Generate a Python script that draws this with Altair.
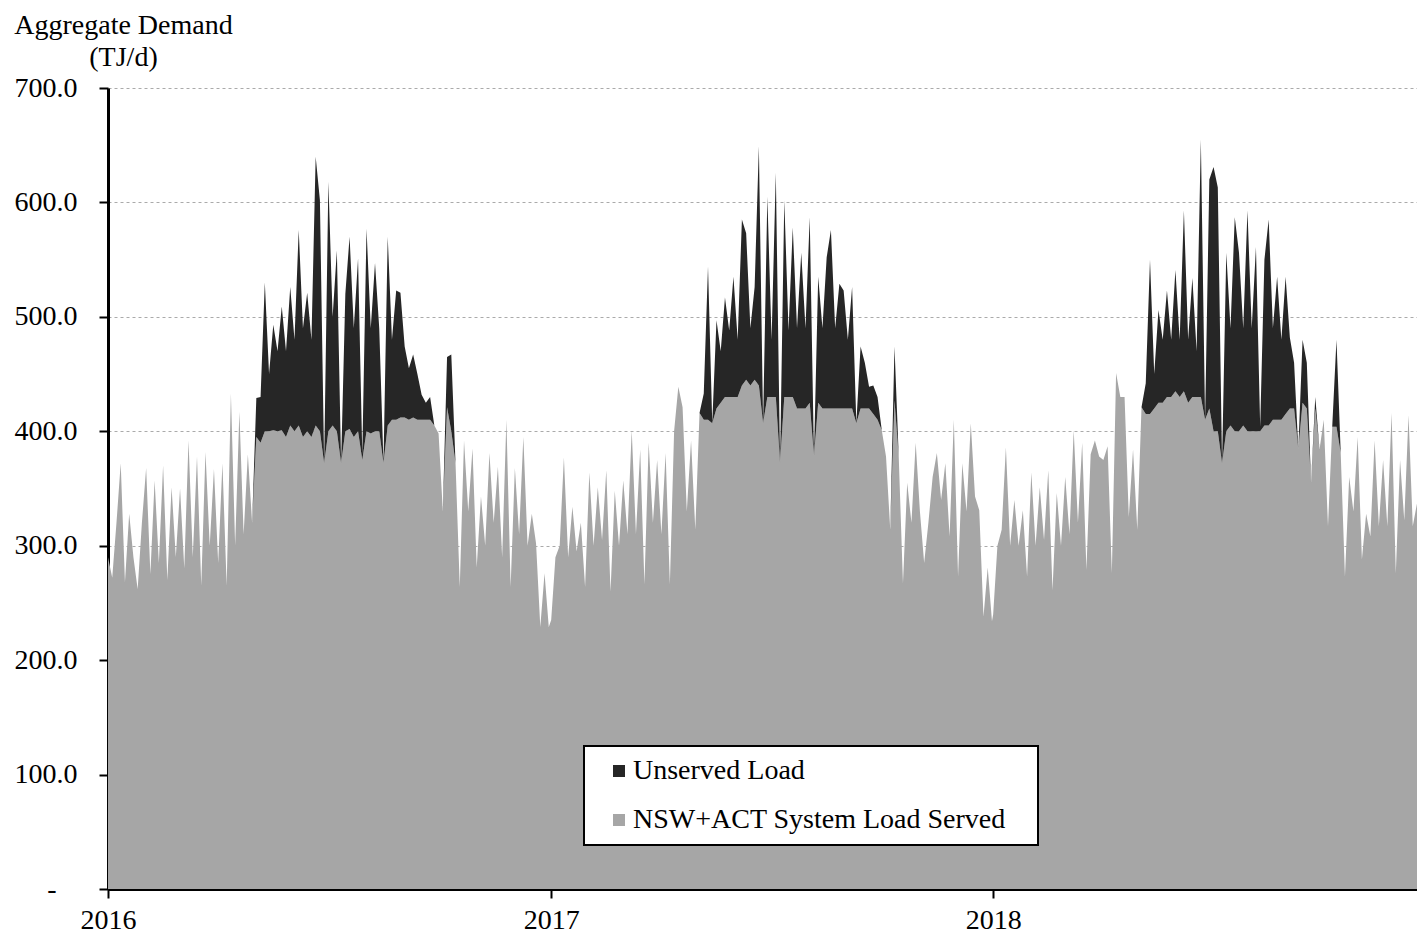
import altair as alt
import pandas as pd

# ---- data (half-week samples, TJ/d) ----
served_2016 = [290,272,320,372,268,328,290,262,320,368,
               275,357,285,370,270,351,290,350,280,392,
               290,378,265,382,300,367,285,372,265,433,
               300,417,310,380,320,395,390,400,400,401,
               400,401,395,405,400,405,395,400,395,405,
               400,372,400,405,400,372,400,402,395,400,
               375,400,398,400,400,372,405,410,410,412,
               412,410,412,410,410,410,410,405,398,330,
               421,400,372,264,392,330,385,281,343,300,
               381,320,369,290,410,264,368,310,395,300,
               328,302,229,276,229]
unserved_2016 = [0]*35 + [34,40,130,50,92,70,108,75,121,80,
                          171,95,121,85,235,202,0,218,95,158,
                          0,120,168,95,151,5,177,92,147,90,
                          0,165,70,113,109,62,45,55,40,22,
                          15,20,0,0,0,44,67] + [0]*23

served_2017 = [235,290,300,377,290,334,295,320,264,364,
               300,351,305,366,260,348,300,357,310,401,
               310,384,266,390,320,375,310,381,266,400,
               439,421,330,392,314,416,410,410,407,420,
               425,430,430,430,430,440,445,440,445,440,
               407,430,430,430,372,430,430,430,420,420,
               420,425,378,425,420,420,420,420,420,420,
               420,420,407,420,420,420,415,410,401,378,
               314,427,378,267,355,320,390,330,285,320,
               360,381,340,372,308,410,273,372,330,407,
               343,331,238,281,234]
unserved_2017 = [0]*36 + [23,134,0,77,45,87,58,105,50,145,
                          128,50,81,209,0,175,50,196,0,172,
                          58,148,70,136,70,162,0,110,70,132,
                          156,70,109,103,60,106,0,54,40,19,
                          25,20,0,0,0,47] + [0]*23

served_2018 = [240,300,314,386,300,340,300,331,273,364,
               300,351,305,366,261,346,300,360,310,401,
               320,390,279,380,392,378,375,387,276,451,
               430,430,325,384,314,421,415,415,420,425,
               425,430,430,435,430,435,425,430,430,430,
               410,420,400,400,372,400,405,400,400,405,
               400,400,400,400,405,405,410,410,410,415,
               420,420,384,425,420,355,420,384,410,317,
               404,404,381,273,360,330,395,288,328,308,
               392,317,375,317,416,276,375,322,414,317,
               337]
unserved_2018 = [0]*36 + [27,135,30,81,55,93,50,106,50,158,
                          55,104,40,225,0,200,231,213,0,156,
                          85,187,156,85,193,90,161,4,145,180,
                          80,125,70,120,62,40,0,55,40,0,
                          10,0,0,0,0,76] + [0]*19

y_ticks = [0, 100, 200, 300, 400, 500, 600, 700]
series_names = ["Unserved Load", "NSW+ACT System Load Served"]
series_colors = ["#262626", "#a6a6a6"]

rows = []
for year, served, unserved in [(2016, served_2016, unserved_2016),
                               (2017, served_2017, unserved_2017),
                               (2018, served_2018, unserved_2018)]:
    dates = pd.date_range(f"{year}-01-01", periods=len(served), freq="84h")
    for d, s, u in zip(dates, served, unserved):
        rows.append({"date": d, "series": series_names[1], "value": s, "ord": 0})
        rows.append({"date": d, "series": series_names[0], "value": u, "ord": 1})
df = pd.DataFrame(rows)

FONT = "Liberation Serif"
BLANK = "\u2800"

chart = alt.Chart(df).mark_area(interpolate="linear", clip=True).encode(
    x=alt.X("date:T",
            scale=alt.Scale(domain=[alt.DateTime(year=2016, month=1, date=1),
                                    alt.DateTime(year=2018, month=12, date=17)]),
            axis=alt.Axis(values=[alt.DateTime(year=y, month=1, date=1) for y in (2016, 2017, 2018)],
                          format="%Y", title=None, grid=False, labelFlush=False,
                          tickSize=9, tickWidth=2, tickColor="black",
                          domainColor="black", domainWidth=3,
                          labelPadding=8, labelFontSize=28, labelFont=FONT,
                          labelColor="black")),
    y=alt.Y("value:Q", stack="zero",
            scale=alt.Scale(domain=[0, 700], nice=False),
            axis=alt.Axis(values=y_ticks,
                          labelExpr=f"datum.value == 0 ? '-{BLANK}' : format(datum.value, '.1f')",
                          title=["Aggregate Demand", "(TJ/d)"],
                          titleAngle=0, titleAlign="center", titleBaseline="alphabetic",
                          titleX=15, titleY=-55, titleLineHeight=32,
                          titleFontSize=28, titleFont=FONT, titleFontWeight="normal",
                          titleColor="black",
                          tickSize=9, tickWidth=2, tickColor="black",
                          domainColor="black", domainWidth=3,
                          labelPadding=22, labelFontSize=28, labelFont=FONT,
                          labelColor="black",
                          grid=True, gridDash=[3, 3], gridColor="#aaaaaa", gridWidth=1)),
    color=alt.Color("series:N",
                    scale=alt.Scale(domain=series_names, range=series_colors),
                    legend=alt.Legend(title=None, orient="none", legendX=476, legendY=658,
                                      fillColor="white", strokeColor="black",
                                      padding=11, symbolOffset=10,
                                      symbolType="square", symbolSize=144,
                                      symbolStrokeWidth=0, labelFontSize=28,
                                      labelFont=FONT, labelColor="black",
                                      labelOffset=0, rowPadding=21, labelLimit=700,
                                      labelExpr=f"datum.label + '{BLANK}'")),
    order=alt.Order("ord:Q"),
).properties(
    width=1309, height=801,
    padding={"left": 5, "top": 3, "right": 0, "bottom": 0},
).configure_view(stroke=None).configure_legend(strokeWidth=2)

chart.save("out.html", embed_options={"renderer": "svg", "actions": False})
